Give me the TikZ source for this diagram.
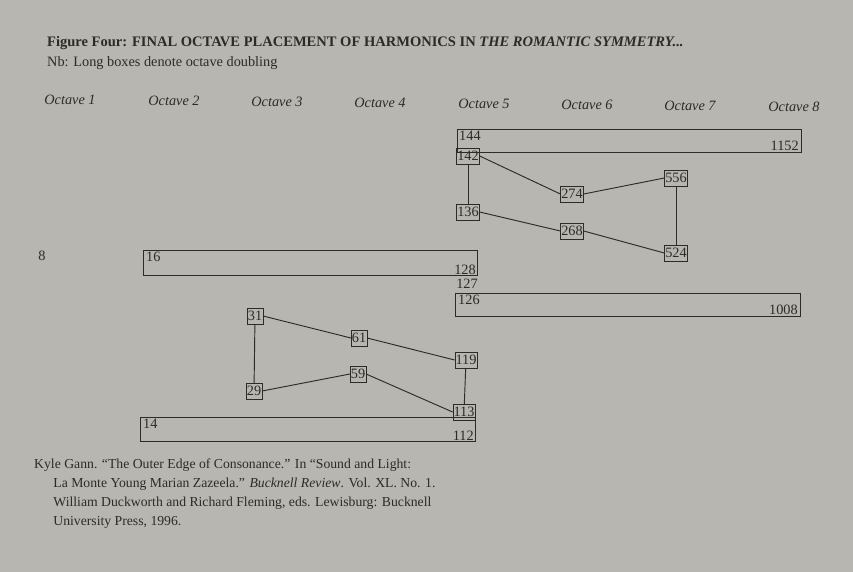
\documentclass[tikz,border=0pt]{standalone}
\usepackage{fontspec}
\setmainfont{Liberation Serif}
\definecolor{paper}{RGB}{184,182,176}
\definecolor{ink}{RGB}{45,42,40}
\begin{document}
\begin{tikzpicture}[x=0.03cm,y=-0.03cm,
    harm/.style={draw=ink, inner sep=0.6pt, minimum height=16*0.03cm, text=ink, font=\fontsize{12.2}{13}\selectfont},
    num/.style={inner sep=0pt, text=ink, font=\fontsize{12.2}{13}\selectfont},
    octave/.style={text=ink, font=\fontsize{12.2}{13}\selectfont\itshape},
    link/.style={draw=ink, line width=.8pt}]
    % Page
    \fill[paper] (0,0) rectangle (853,572);
    \node[anchor=west, inner sep=0pt, text=ink, font=\fontsize{12.4}{13}\selectfont\bfseries] (title) at (47,43)
        {Figure Four: FINAL OCTAVE PLACEMENT OF HARMONICS IN \textit{THE ROMANTIC SYMMETRY...}};
    \node[anchor=west, inner sep=0pt, text=ink, font=\fontsize{12.2}{13}\selectfont] (nb) at (47,63) {Nb: Long boxes denote octave doubling};
    % Octave headers
    \foreach \i/\x in {1/70,2/174,3/277,4/380,5/484,6/587,7/690,8/794} {
        \node[octave] (Octave-\i) at (\x,{99+\i*1}) {Octave \i};
    }
    \node[num] (h8) at (42,256) {8};
    % Long boxes (octave doubling)
    \draw[ink] (457,129) rectangle (801,152);
    \node[num, anchor=north west] (h144) at (459,131) {144};
    \node[num, anchor=south east] (h1152) at (799,151) {1152};
    \draw[ink] (143,250) rectangle (477,275);
    \node[num, anchor=north west] (h16) at (146,252) {16};
    \node[num, anchor=south east] (h128) at (476,275) {128};
    \node[num] (h127) at (467,284) {127};
    \draw[ink] (455,293) rectangle (800,316);
    \node[num, anchor=north west] (h126) at (458,295) {126};
    \node[num, anchor=south east] (h1008) at (798,315) {1008};
    \draw[ink] (140,417) rectangle (475,441);
    \node[num, anchor=north west] (h14) at (143,419) {14};
    \node[num, anchor=south east] (h112) at (474,441) {112};
    % Upper group
    \node[harm] (h142) at (468,156) {142};
    \node[harm] (h136) at (468,212) {136};
    \node[harm] (h274) at (572,194) {274};
    \node[harm] (h268) at (572,231) {268};
    \node[harm] (h556) at (676,178) {556};
    \node[harm] (h524) at (676,253) {524};
    % Lower group
    \node[harm] (h31) at (255,316) {31};
    \node[harm] (h29) at (254,391) {29};
    \node[harm] (h61) at (359,338) {61};
    \node[harm] (h59) at (358,374) {59};
    \node[harm] (h119) at (466,360) {119};
    \node[harm] (h113) at (464,412) {113};
    % Connections
    \draw[link] (h142) -- (h136);
    \draw[link] (h142.east) -- (h274.west);
    \draw[link] (h274.east) -- (h556.west);
    \draw[link] (h556) -- (h524);
    \draw[link] (h136.east) -- (h268.west);
    \draw[link] (h268.east) -- (h524.west);
    \draw[link] (h31) -- (h29);
    \draw[link] (h31.east) -- (h61.west);
    \draw[link] (h61.east) -- (h119.west);
    \draw[link] (h119) -- (h113);
    \draw[link] (h29.east) -- (h59.west);
    \draw[link] (h59.east) -- (h113.west);
    % Source
    \node[anchor=north west, inner sep=0pt, text=ink, align=left, font=\fontsize{11.7}{16}\selectfont] (source) at (34,459)
        {Kyle Gann. ``The Outer Edge of Consonance.'' In ``Sound and Light:\\
        \hspace{1.4em}La Monte Young Marian Zazeela.'' \textit{Bucknell Review}. Vol. XL. No. 1.\\
        \hspace{1.4em}William Duckworth and Richard Fleming, eds. Lewisburg: Bucknell\\
        \hspace{1.4em}University Press, 1996.};
\end{tikzpicture}
\end{document}
